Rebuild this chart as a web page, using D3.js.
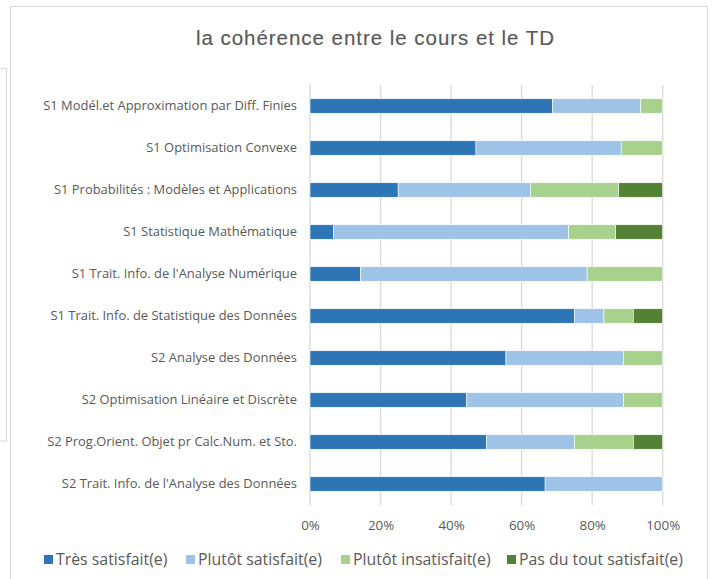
<!DOCTYPE html>
<html><head><meta charset="utf-8">
<script src="https://cdn.jsdelivr.net/npm/d3@7"></script>
<style>body{margin:0;background:#fff;}svg{display:block;}</style>
</head><body>
<svg id="c" width="712" height="579"></svg>
<script>
const categories = [
  "S1 Modél.et Approximation par Diff. Finies",
  "S1 Optimisation Convexe",
  "S1 Probabilités : Modèles et Applications",
  "S1 Statistique Mathématique",
  "S1 Trait. Info. de l'Analyse Numérique",
  "S1 Trait. Info. de Statistique des Données",
  "S2 Analyse des Données",
  "S2 Optimisation Linéaire et Discrète",
  "S2 Prog.Orient. Objet pr Calc.Num. et Sto.",
  "S2 Trait. Info. de l'Analyse des Données"
];
const seriesNames = ["Très satisfait(e)", "Plutôt satisfait(e)", "Plutôt insatisfait(e)", "Pas du tout satisfait(e)"];
const tresSatisfait     = [68.75, 47.06, 25.0, 6.67, 14.29, 75.0, 55.56, 44.44, 50.0, 66.67];
const plutotSatisfait   = [25.0, 41.18, 37.5, 66.67, 64.29, 8.33, 33.33, 44.44, 25.0, 33.33];
const plutotInsatisfait = [6.25, 11.76, 25.0, 13.33, 21.43, 8.33, 11.11, 11.11, 16.67, 0];
const pasDuTout         = [0, 0, 12.5, 13.33, 0, 8.33, 0, 0, 8.33, 0];
const tickValues = [0, 0.2, 0.4, 0.6, 0.8, 1.0];
const title = "la cohérence entre le cours et le TD";

const colors = ["#2E75B6", "#9DC3E6", "#A9D18E", "#548235"];
const svg = d3.select("#c");
const gray = "#595959";
const labelFont = "'Open Sans', Lato, sans-serif";

function fitSize(sel, base, target) {
  let w = 0;
  sel.each(function(){ w = Math.max(w, this.getComputedTextLength()); });
  sel.attr("font-size", base * target / w);
}

// outer frames
svg.append("rect").attr("x", -5).attr("y", 68.5).attr("width", 11.5).attr("height", 372.5)
  .attr("fill", "none").attr("stroke", "#D9D9D9").attr("stroke-width", 1);
svg.append("rect").attr("x", 10.5).attr("y", 6.5).attr("width", 697).attr("height", 600)
  .attr("fill", "#fff").attr("stroke", "#D9D9D9").attr("stroke-width", 1);

// title
const t = svg.append("text").attr("x", 375.5).attr("y", 45).attr("text-anchor", "middle")
  .attr("font-family", "'Liberation Sans', Arial, sans-serif").attr("font-size", 20.5)
  .attr("fill", gray).attr("stroke", gray).attr("stroke-width", 0.15).text(title);
{
  const w0 = t.node().getComputedTextLength();
  t.attr("letter-spacing", Math.max(0, (359 - w0) / title.length));
}

const x = d3.scaleLinear().domain([0, 1]).range([310, 662.7]);
const y = d3.scaleBand().domain(categories).range([85, 505]).paddingInner(0.655).paddingOuter(0.3275);

// gridlines
svg.append("g").selectAll("line").data(tickValues).join("line")
  .attr("x1", d => x(d)).attr("x2", d => x(d)).attr("y1", 85).attr("y2", 505)
  .attr("stroke", "#D9D9D9").attr("stroke-width", 1.3);

// stacked data
const rows = categories.map((c, i) => ({cat: c,
  s0: tresSatisfait[i] / 100, s1: plutotSatisfait[i] / 100,
  s2: plutotInsatisfait[i] / 100, s3: pasDuTout[i] / 100}));
const stack = d3.stack().keys(["s0", "s1", "s2", "s3"])(rows);

svg.append("g").selectAll("g").data(stack).join("g")
  .attr("fill", (d, i) => colors[i])
  .selectAll("rect").data(d => d.filter(p => p[1] - p[0] > 0)).join("rect")
  .attr("x", d => x(d[0])).attr("width", d => x(d[1]) - x(d[0]))
  .attr("y", d => y(d.data.cat)).attr("height", y.bandwidth())
  .attr("stroke", "#fff").attr("stroke-width", 0.6);

// category labels
const yAxis = svg.append("g").attr("transform", "translate(310,0)")
  .call(d3.axisLeft(y).tickSize(0).tickPadding(13));
yAxis.select(".domain").remove();
yAxis.selectAll("text").attr("font-family", labelFont).attr("font-size", 12).attr("fill", gray);
fitSize(yAxis.selectAll("text"), 12, 254);

// x axis tick labels
const xAxis = svg.append("g").attr("transform", "translate(0,505)")
  .call(d3.axisBottom(x).tickValues(tickValues).tickFormat(d3.format(".0%")).tickSize(0).tickPadding(16));
xAxis.select(".domain").remove();
xAxis.selectAll("text").attr("font-family", labelFont).attr("font-size", 13).attr("fill", gray);
fitSize(xAxis.selectAll("text"), 13, 34);

// legend
const legX = [44, 186, 341, 507];
const leg = svg.append("g").selectAll("g").data(seriesNames).join("g")
  .attr("transform", (d, i) => `translate(${legX[i]},555)`);
leg.append("rect").attr("width", 9).attr("height", 9).attr("fill", (d, i) => colors[i]);
const lt = leg.append("text").attr("x", 12).attr("y", 9.5).attr("font-family", labelFont)
  .attr("font-size", 14).attr("fill", gray).text(d => d);
fitSize(lt, 14, 164);
</script>
</body></html>
